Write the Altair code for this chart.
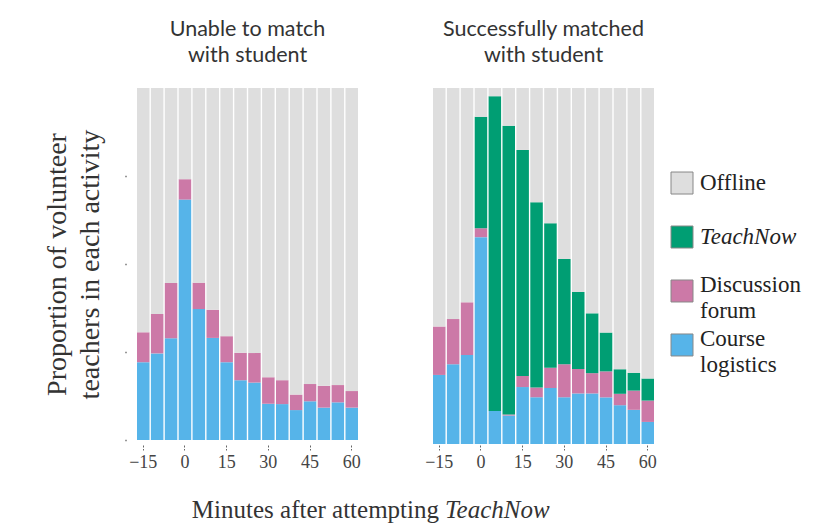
import altair as alt
import pandas as pd

minutes = [-15, -10, -5, 0, 5, 10, 15, 20, 25, 30, 35, 40, 45, 50, 55, 60]
tick_minutes = [-15, 0, 15, 30, 45, 60]

activities = ["Course logistics", "Discussion forum", "TeachNow", "Offline"]
colors = ["#56B4E9", "#CC79A7", "#009E73", "#DEDEDE"]
legend_order = ["Offline", "TeachNow", "Discussion forum", "Course logistics"]
legend_labels = ["Offline", "TeachNow", "Discussion|forum", "Course|logistics"]

# Unable to match with student
left_logistics = [0.221, 0.246, 0.289, 0.683, 0.372, 0.290, 0.221, 0.170,
                  0.163, 0.103, 0.102, 0.085, 0.110, 0.092, 0.107, 0.092]
left_forum = [0.085, 0.112, 0.157, 0.058, 0.075, 0.080, 0.074, 0.078,
              0.084, 0.075, 0.068, 0.044, 0.049, 0.062, 0.049, 0.047]
left_teachnow = [0.0] * 16

# Successfully matched with student
right_logistics = [0.194, 0.224, 0.250, 0.581, 0.093, 0.080, 0.160, 0.131,
                   0.157, 0.131, 0.142, 0.142, 0.131, 0.109, 0.096, 0.062]
right_forum = [0.136, 0.127, 0.148, 0.025, 0.000, 0.003, 0.031, 0.028,
               0.057, 0.093, 0.069, 0.057, 0.073, 0.032, 0.054, 0.060]
right_teachnow = [0.0, 0.0, 0.0, 0.313, 0.884, 0.811, 0.635, 0.520,
                  0.406, 0.296, 0.216, 0.168, 0.109, 0.069, 0.050, 0.062]

SERIF = "Liberation Serif"
SANS = "Lato"


def frame(log, forum, tn):
    rows = []
    for i, m in enumerate(minutes):
        offline = 1 - (log[i] + forum[i] + tn[i])
        for k, (a, v) in enumerate(zip(activities, [log[i], forum[i], tn[i], offline])):
            rows.append(dict(minute=m, activity=a, value=v, order=k))
    return pd.DataFrame(rows)


color_scale = alt.Scale(domain=activities, range=colors)


def panel(df, title, height, show_y, x_offset):
    if show_y:
        yaxis = alt.Axis(values=[0, 0.25, 0.5, 0.75], labels=False, domain=False,
                         grid=False, tickSize=1, tickWidth=1.5, tickColor="#333",
                         offset=11,
                         title=["Proportion of volunteer", "teachers in each activity"],
                         titleFont=SERIF, titleFontSize=28, titleFontWeight="normal",
                         titleColor="#333", titleLineHeight=33, titlePadding=20)
    else:
        yaxis = None
    return alt.Chart(df).mark_bar().encode(
        x=alt.X("minute:O",
                scale=alt.Scale(paddingInner=0.1, paddingOuter=0),
                axis=alt.Axis(values=tick_minutes,
                              labelExpr="datum.value < 0 ? '\u2212' + abs(datum.value) : datum.label",
                              title=None, domain=False, tickSize=5, tickColor="#666",
                              tickDash=[2, 1.5], offset=x_offset, labelFont=SERIF,
                              labelFontSize=18, labelColor="#444", labelAngle=0,
                              labelPadding=3)),
        y=alt.Y("value:Q", stack="zero", scale=alt.Scale(domain=[0, 1], nice=False),
                axis=yaxis),
        color=alt.Color("activity:N", scale=color_scale, legend=None),
        order=alt.Order("order:Q", sort="ascending"),
    ).properties(
        width=221, height=height,
        title=alt.TitleParams(text=title, font=SANS, fontSize=21.5, fontWeight="normal",
                              color="#333", lineHeight=26, anchor="middle", offset=22),
    )


left = panel(frame(left_logistics, left_forum, left_teachnow),
             ["Unable to match", "with student"], 352, True, 5)
right = panel(frame(right_logistics, right_forum, right_teachnow),
              ["Successfully matched", "with student"], 356, False, 1)

leg_df = pd.DataFrame({
    "activity": legend_order,
    "idx": [0, 1, 2, 3],
    "label": legend_labels,
    "multi": [0, 0, 1, 1],
    "italic": [0, 1, 0, 0],
})
leg_base = alt.Chart(leg_df).encode(
    y=alt.Y("idx:Q", scale=alt.Scale(domain=[-1.76, 4.76], reverse=True, nice=False,
                                     zero=False), axis=None)
)
squares = leg_base.mark_square(size=484, filled=True, opacity=1, stroke="#888",
                               strokeWidth=1).encode(
    x=alt.value(21),
    color=alt.Color("activity:N", scale=color_scale, legend=None),
)
txt_kw = dict(align="left", baseline="middle", font=SERIF, fontSize=23, color="#222")
text_plain = leg_base.transform_filter("datum.italic == 0 && datum.multi == 0").mark_text(
    **txt_kw).encode(x=alt.value(39), text="label:N")
text_ital = leg_base.transform_filter("datum.italic == 1").mark_text(
    fontStyle="italic", **txt_kw).encode(x=alt.value(39), text="label:N")
text_multi = leg_base.transform_filter("datum.multi == 1").mark_text(
    lineBreak="|", lineHeight=26, dy=-6, **txt_kw).encode(x=alt.value(39), text="label:N")
legend = alt.layer(squares, text_plain, text_ital, text_multi).properties(width=135, height=352)

title_df = pd.DataFrame({"part": ["Minutes after attempting", "TeachNow"]})
title_base = alt.Chart(title_df)
t_roman = title_base.transform_filter("datum.part != 'TeachNow'").mark_text(
    align="right", baseline="middle", font=SERIF, fontSize=25, color="#333").encode(
    x=alt.value(302), y=alt.value(17), text="part:N")
t_ital = title_base.transform_filter("datum.part == 'TeachNow'").mark_text(
    align="left", baseline="middle", font=SERIF, fontSize=25, color="#333",
    fontStyle="italic").encode(x=alt.value(308), y=alt.value(17), text="part:N")
bottom = alt.layer(t_roman, t_ital).properties(width=560, height=30)

panels = alt.hconcat(alt.hconcat(left, right, spacing=63), legend, spacing=4)
chart = alt.vconcat(panels, bottom, spacing=22).properties(
    padding={"left": 35, "top": 10, "right": 2, "bottom": 2},
    background="white",
).configure_view(stroke=None).configure_axis(grid=False)

chart.save("out.html", embed_options={"renderer": "svg", "actions": False})
